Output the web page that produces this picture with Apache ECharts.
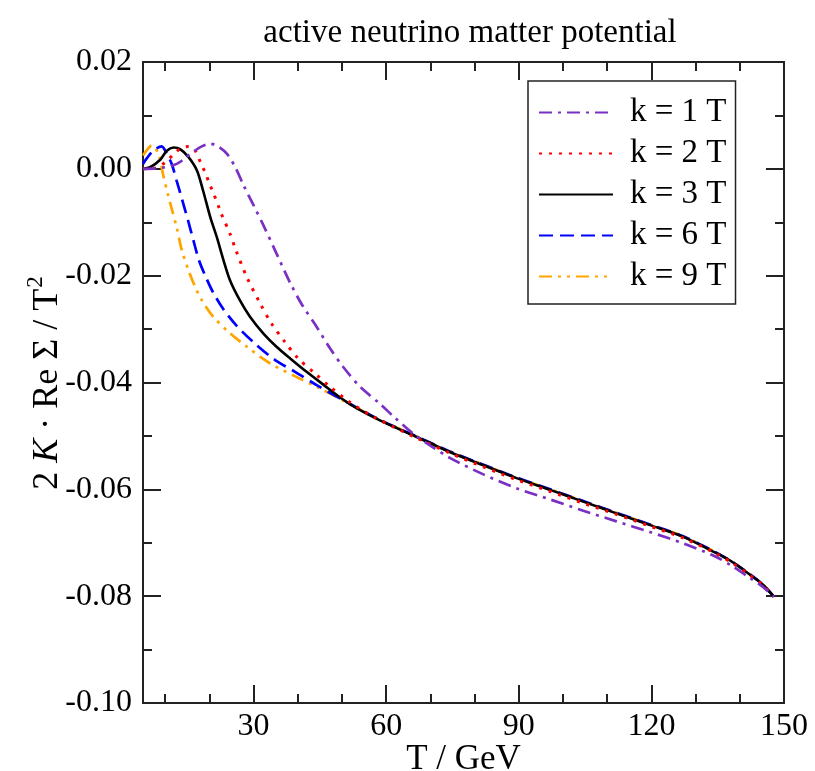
<!DOCTYPE html>
<html><head><meta charset="utf-8">
<script src="https://cdn.jsdelivr.net/npm/echarts@6/dist/echarts.min.js"></script>
<style>html,body{margin:0;padding:0;background:#fff}#c{width:815px;height:771px}</style>
</head><body><div id="c"></div>
<script>
const xMajorTicks = [30, 60, 90, 120, 150];
const xMinorTicks = [10, 20, 40, 50, 70, 80, 100, 110, 130, 140];
const legendNames = ['k = 1 T', 'k = 2 T', 'k = 3 T', 'k = 6 T', 'k = 9 T'];

const T_k1 = [5, 8, 10, 12, 13.4, 14.5, 16.4, 18.3, 20.2, 22, 24, 26, 27.7, 30, 32.2, 35, 38.2, 41, 44.3, 47.3, 50.3, 54, 58.6, 62, 66, 70, 74.4, 82, 89.5, 97.1, 104.6, 112.1, 119.7, 127.2, 134.8, 138.5, 142.3, 145.3, 147.7];
const V_k1 = [0, 0.0001, 0.0003, 0.0007, 0.0013, 0.002, 0.0032, 0.0042, 0.0047, 0.0042, 0.0028, 0.0001, -0.003, -0.0068, -0.0105, -0.0155, -0.0212, -0.0255, -0.0296, -0.0336, -0.0371, -0.0407, -0.044, -0.0466, -0.0495, -0.0518, -0.0541, -0.0572, -0.0598, -0.0619, -0.064, -0.066, -0.068, -0.0701, -0.0727, -0.0745, -0.0766, -0.0783, -0.0801];

const T_k2 = [5, 8, 10, 12, 13.5, 15.3, 16.8, 18, 19, 20, 21, 22, 22.6, 24.7, 26, 28.5, 31.5, 34.1, 37.1, 40.1, 43.9, 47.3, 51.8, 57.1, 66.9, 74.4, 82, 89.5, 97.1, 104.6, 112.1, 119.7, 127.2, 134.8, 138.5, 142.3, 145.3, 147.7];
const V_k2 = [0, 0.0002, 0.0012, 0.0028, 0.0038, 0.0042, 0.0034, 0.0012, -0.0006, -0.0027, -0.0047, -0.0068, -0.0082, -0.0122, -0.0152, -0.0203, -0.0252, -0.029, -0.0324, -0.0355, -0.0383, -0.0408, -0.0437, -0.0464, -0.0504, -0.0532, -0.0558, -0.0582, -0.0604, -0.0626, -0.0647, -0.0669, -0.0691, -0.0721, -0.0739, -0.0761, -0.078, -0.0801];

const T_k3 = [5, 6.6, 8.9, 10.4, 11.9, 13.4, 15.3, 17.2, 18.6, 20.2, 21.7, 23.2, 24.7, 26.9, 29.2, 32.2, 35.2, 38.3, 42, 45.8, 49.6, 53.3, 58.6, 66.9, 74.4, 82, 89.5, 97.1, 104.6, 112.1, 119.7, 127.2, 134.8, 138.5, 142.3, 145.3, 147.7];
const V_k3 = [0, 0.0003, 0.0017, 0.0034, 0.004, 0.0037, 0.0022, -0.0003, -0.0041, -0.009, -0.0128, -0.0171, -0.0209, -0.0246, -0.0277, -0.0308, -0.0333, -0.0355, -0.038, -0.0404, -0.0428, -0.0448, -0.0471, -0.0502, -0.053, -0.0555, -0.0579, -0.0601, -0.0623, -0.0645, -0.0667, -0.0689, -0.072, -0.0737, -0.076, -0.0779, -0.0801];

const T_k6 = [5, 5.8, 7.3, 9.2, 10.4, 11.5, 12.6, 13.9, 15.3, 16.4, 17.7, 19.4, 20.9, 23.2, 26.2, 30.3, 34.9, 39.4, 44.3, 50.3, 58.6, 66.9, 74.4, 82, 89.5, 97.1, 104.6, 112.1, 119.7, 127.2, 134.8, 138.5, 142.3, 145.3, 147.7];
const V_k6 = [0.0009, 0.0019, 0.0034, 0.0042, 0.0028, 0.0009, -0.0022, -0.0059, -0.01, -0.0134, -0.0172, -0.0206, -0.0232, -0.0263, -0.0294, -0.0327, -0.0358, -0.038, -0.0405, -0.0433, -0.047, -0.0501, -0.0529, -0.0554, -0.0578, -0.06, -0.0622, -0.0644, -0.0666, -0.0688, -0.0719, -0.0737, -0.0759, -0.0779, -0.0801];

const T_k9 = [5, 5.5, 7, 8.5, 9.6, 10.7, 11.5, 12.6, 13.8, 15.3, 16.8, 18.3, 20.9, 24.7, 28.5, 33.7, 39.8, 44.3, 50.3, 58.6, 66.9, 74.4, 82, 89.5, 97.1, 104.6, 112.1, 119.7, 127.2, 134.8, 138.5, 142.3, 145.3, 147.7];
const V_k9 = [0.0025, 0.0031, 0.0044, 0.0028, -0.0013, -0.005, -0.0075, -0.0109, -0.0153, -0.019, -0.0221, -0.0246, -0.0277, -0.0308, -0.0333, -0.0364, -0.039, -0.0408, -0.0434, -0.047, -0.0501, -0.0529, -0.0554, -0.0578, -0.06, -0.0622, -0.0644, -0.0666, -0.0688, -0.0719, -0.0737, -0.0759, -0.0779, -0.0801];

const SERIF = 'Liberation Serif';
const AX = '#222';
function pairs(t, v) { return t.map((x, i) => [x, v[i]]); }

const styles = [
  { color: '#7b30c4', type: [13, 6, 3, 6], width: 2.7 },
  { color: '#ff0000', type: [3, 7], width: 3 },
  { color: '#000000', type: 'solid', width: 2.6 },
  { color: '#0000ff', type: [14, 7], width: 2.7 },
  { color: '#ffa500', type: [13, 6, 3, 6, 3, 6], width: 2.7 }
];
const dataSets = [pairs(T_k1, V_k1), pairs(T_k2, V_k2), pairs(T_k3, V_k3), pairs(T_k6, V_k6), pairs(T_k9, V_k9)];

function xAx(pos, ticks, len, labels, extra) {
  return Object.assign({
    type: 'value', position: pos, min: 5, max: 150,
    axisLine: { show: true, onZero: false, lineStyle: { color: AX, width: 2 } },
    axisTick: { show: true, inside: true, length: len, customValues: ticks, lineStyle: { color: AX, width: 2 } },
    axisLabel: labels ? { show: true, customValues: xMajorTicks, fontFamily: SERIF, fontSize: 32, color: '#000', margin: 8 } : { show: false },
    splitLine: { show: false }
  }, extra || {});
}
function yAx(pos, labels) {
  return {
    type: 'value', position: pos, min: -0.1, max: 0.02, interval: 0.02,
    axisLine: { show: true, onZero: false, lineStyle: { color: AX, width: 2 } },
    axisTick: { show: true, inside: true, length: 18, lineStyle: { color: AX, width: 2 } },
    minorTick: { show: true, splitNumber: 2, length: 9, lineStyle: { color: AX, width: 2 } },
    axisLabel: labels ? { show: true, fontFamily: SERIF, fontSize: 32, color: '#000', margin: 11,
      formatter: v => (Math.abs(v) < 1e-9 ? '0.00' : v.toFixed(2)) } : { show: false },
    splitLine: { show: false }, minorSplitLine: { show: false }
  };
}

const chart = echarts.init(document.getElementById('c'), null, { renderer: 'canvas' });
chart.setOption({
  animation: false,
  backgroundColor: '#fff',
  title: {
    text: 'active neutrino matter potential', left: 465, top: 12, textAlign: 'center',
    textStyle: { fontFamily: SERIF, fontWeight: 'normal', fontSize: 33, color: '#000' }
  },
  grid: { left: 143, right: 31, top: 62, bottom: 68, containLabel: false, outerBoundsMode: 'none' },
  xAxis: [
    xAx('bottom', xMajorTicks, 18, true, { name: 'T / GeV', nameLocation: 'middle', nameGap: 57,
      nameMoveOverlap: false,
      nameTextStyle: { fontFamily: SERIF, fontSize: 35, color: '#000', verticalAlign: 'middle' } }),
    xAx('bottom', xMinorTicks, 9, false),
    xAx('top', xMajorTicks, 18, false),
    xAx('top', xMinorTicks, 9, false)
  ],
  yAxis: [yAx('left', true), yAx('right', false)],
  legend: {
    orient: 'vertical', left: 528, top: 81,
    backgroundColor: '#fff', borderColor: '#222', borderWidth: 1.5,
    padding: [15, 9, 11, 10], itemWidth: 74, itemHeight: 20, itemGap: 8,
    itemStyle: { opacity: 0 },
    textStyle: { fontFamily: SERIF, fontSize: 33, color: '#000', padding: [0, 0, 0, 12] },
    data: legendNames
  },
  graphic: [{
    type: 'text', x: 45, y: 383, rotation: Math.PI / 2,
    style: {
      text: '{n|2 }{i|K}{n| · Re Σ / T}{s|2}',
      align: 'center', verticalAlign: 'middle',
      rich: {
        n: { fontFamily: SERIF, fontSize: 36, fill: '#000', verticalAlign: 'bottom' },
        i: { fontFamily: SERIF, fontSize: 36, fontStyle: 'italic', fill: '#000', verticalAlign: 'bottom' },
        s: { fontFamily: SERIF, fontSize: 23, fill: '#000', verticalAlign: 'bottom', padding: [0, 0, 19, 1] }
      }
    }
  }],
  series: legendNames.map((name, i) => ({
    name: name, type: 'line', xAxisIndex: 0, yAxisIndex: 0,
    data: dataSets[i], showSymbol: false, symbol: 'none', smooth: 0.3,
    lineStyle: { color: styles[i].color, type: styles[i].type, width: styles[i].width },
    itemStyle: { color: styles[i].color },
    z: 5 - i
  }))
});
</script>
</body></html>
